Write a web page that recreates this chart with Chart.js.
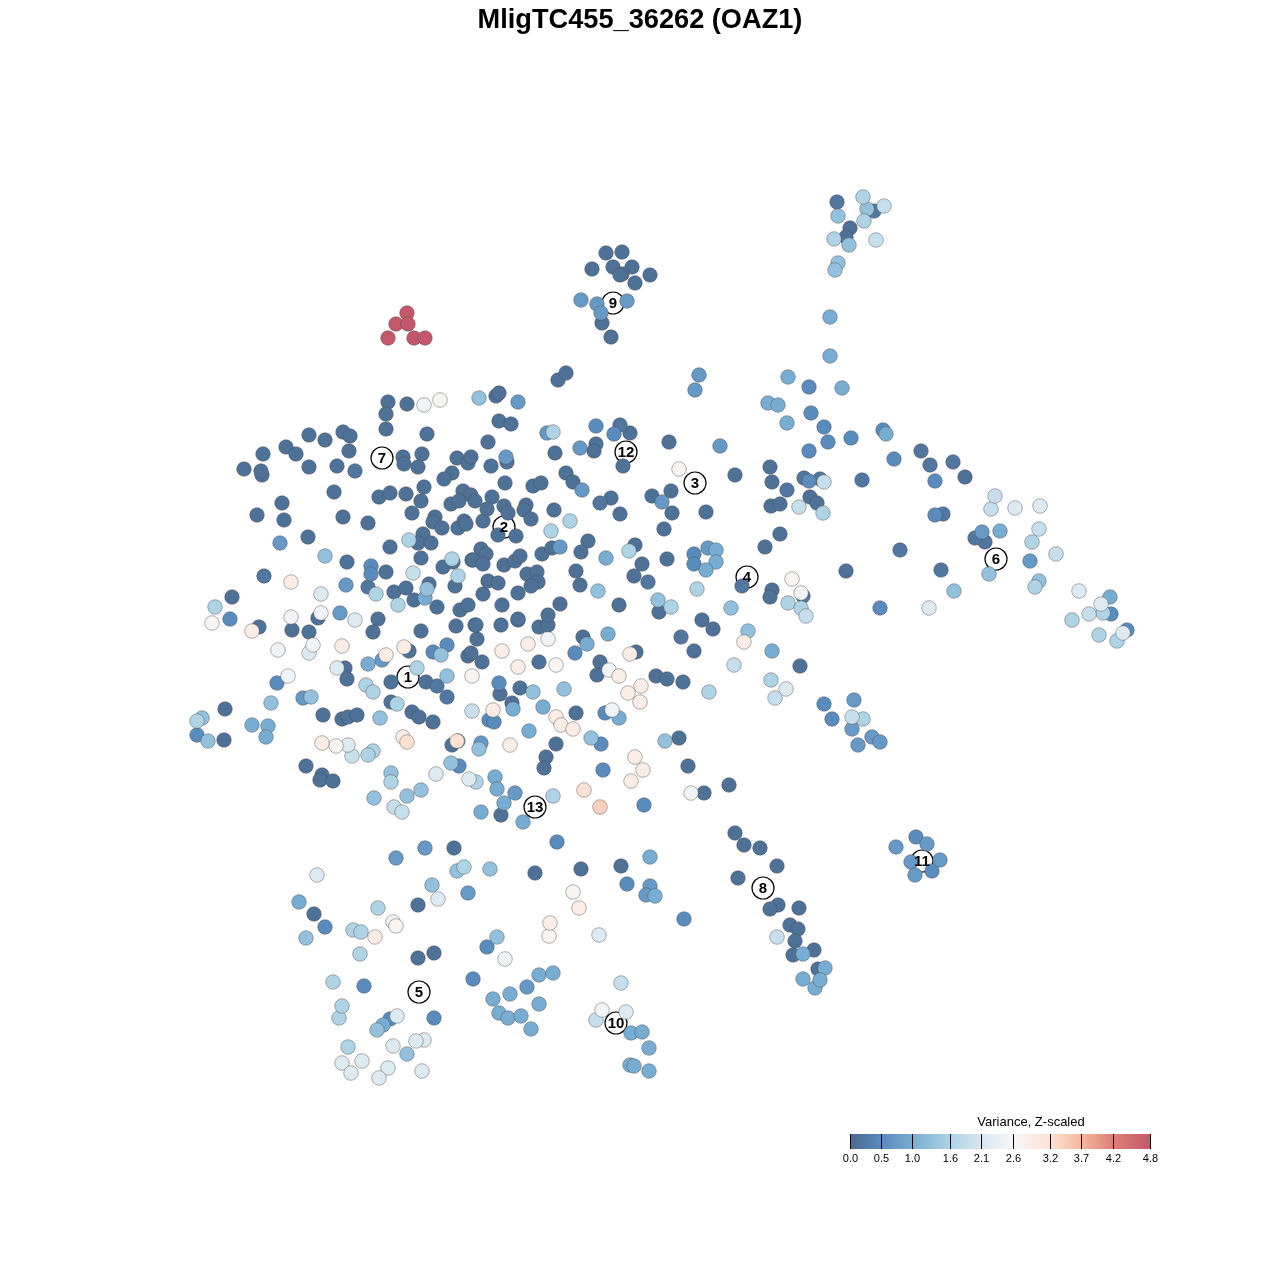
<!DOCTYPE html>
<html>
<head>
<meta charset="utf-8">
<title>MligTC455_36262 (OAZ1)</title>
<script src="https://cdn.jsdelivr.net/npm/chart.js@4/dist/chart.umd.min.js"></script>
<style>
html, body { margin: 0; padding: 0; background: #fff; }
canvas { display: block; }
</style>
</head>
<body>
<canvas id="myChart" width="1280" height="1280"></canvas>
<script>
// points, one list per variance level: [x, y, x, y, ...]
const level01 = [388,402,407,404,386,414,386,429,427,434,309,435,325,440,343,432,350,436,263,454,286,447,296,454,349,451,309,467,337,466,244,469,262,475,261,471,403,457,404,464,422,454,418,467,457,458,468,463,471,457,452,473,444,479,334,492,379,497,390,493,406,494,424,487,421,501,463,491,471,495,451,504,459,501,475,501,282,503,257,515,284,520,343,517,368,523,412,513,435,517,433,522,442,528,458,528,464,521,466,524,483,521,308,537,390,547,423,534,418,543,431,543,421,558,347,562,443,567,453,562,472,560,386,572,429,584,455,586,394,592,406,588,414,600,437,607,232,597,259,627,318,618,378,619,373,632,292,630,309,632,421,631,456,626,475,625,460,610,468,605,483,594,477,639,409,651,468,656,471,653,482,662,345,668,347,679,391,682,426,682,391,702,412,712,419,717,433,722,323,715,342,719,348,717,357,715,225,709,224,740,452,745,306,766,322,775,320,780,333,781,454,848,501,815,583,637,539,627,548,625,518,620,501,625,476,625,636,652,600,662,597,675,656,676,667,679,683,682,539,662,500,694,520,688,512,703,576,713,679,738,556,744,546,757,544,768,688,766,729,785,704,793,735,833,744,845,558,380,566,373,496,396,499,393,499,421,511,424,488,442,630,433,669,442,596,444,594,451,555,453,623,466,491,466,507,462,505,483,566,473,573,482,533,486,541,483,492,497,487,509,504,506,508,513,526,505,524,510,531,519,554,510,498,535,516,536,611,498,620,514,652,496,671,491,672,513,664,529,481,549,486,554,473,560,483,564,504,565,515,561,520,556,542,554,552,548,588,541,581,552,635,545,667,559,642,564,634,576,488,581,498,583,527,574,537,572,538,582,531,586,518,593,502,605,576,571,580,585,560,604,548,615,518,619,619,605,659,612,702,620,713,629,694,651,735,475,706,512,850,228,846,237,965,477,770,467,772,482,810,497,817,503,771,506,780,504,780,534,765,547,846,571,772,590,770,597,800,666,760,848,777,866,738,878,778,905,770,909,799,908,790,925,798,929,795,941,814,950,793,955,818,969,606,253,622,252,613,267,592,269,632,267,622,274,620,275,650,275,635,283,602,323,611,337,535,873,581,869,621,866,418,958,434,953,418,905,314,914];
const level02 = [355,471,620,425,648,582,681,637,837,202,874,211,921,451,930,465,953,462,862,480,804,478,820,479,787,490,985,542,943,514,900,550,975,538,941,570,803,596,264,576,368,587,600,503,437,686,447,697,742,586];
const level05 = [371,566,197,735,433,652,499,683,557,842,603,770,605,713,601,744,575,653,459,766,644,805,614,434,596,426,230,619,277,683,364,986,487,947,325,927,684,919,916,837,932,871,1111,614,1127,630,851,438,811,413,824,427,809,451,935,481,935,515,809,481,880,608,824,704,832,719,894,459,694,554,694,564,627,884,390,1019,434,1018,447,645,371,574,489,720,494,722,809,387,828,442,883,430,473,979];
const level07 = [280,543,340,613,382,660,303,698,699,375,695,390,458,741,481,743,560,547,582,490,662,502,597,304,601,313,896,847,911,862,915,875,872,737,880,742,468,893,650,886,646,895,346,585,720,446,518,402,547,433,580,448,506,457,515,793,708,548,927,844,940,860,581,300,627,301,396,858,852,729,858,745,854,700,527,987,982,532,1030,561,425,848];
const level10 = [368,664,252,725,268,726,266,737,425,598,650,857,481,812,495,777,529,731,543,707,513,709,587,644,608,634,606,558,716,550,716,562,706,570,830,317,830,356,842,388,886,434,1000,531,1110,597,772,651,803,954,815,988,655,896,299,902,631,1033,642,1032,649,1048,630,1065,634,1066,649,1071,531,1029,539,975,553,973,510,994,493,999,539,1004,499,1013,508,1018,521,1016,523,822,619,718,497,789,504,803,768,403,778,405,787,423,788,377,825,968,803,979,820,980,383,1025];
const level13 = [325,556,271,703,380,718,311,697,447,676,202,718,208,741,391,773,421,790,407,796,374,798,427,589,407,1054,377,1030,479,749,451,763,591,738,665,741,533,692,564,689,479,398,731,608,748,631,497,937,490,869,457,871,432,885,867,209,838,216,838,263,835,270,1039,581,954,591,598,591,658,600,441,655,306,938,849,245,989,574];
const level16 = [409,540,452,559,376,594,398,605,215,607,366,685,373,692,397,704,417,668,197,721,373,751,368,755,391,782,476,782,553,796,458,576,551,531,570,521,629,551,697,589,671,607,553,432,863,197,864,221,834,239,1032,542,1035,587,1103,613,1099,635,1117,641,788,603,801,608,709,692,863,719,353,930,361,932,378,908,348,1047,339,1018,333,982,342,1006,464,867,360,954,1072,620,771,680,823,513];
const level19 = [413,573,472,711,352,756,394,807,402,812,1039,529,991,509,995,496,1056,554,884,206,876,240,1089,614,734,665,775,698,852,717,806,616,621,983,596,1020,799,507,824,482,777,937];
const level22 = [321,594,355,620,309,653,337,668,436,774,348,745,469,779,1015,508,1040,506,929,608,786,689,1101,604,1123,633,393,1046,424,1040,416,1041,342,1063,626,1012,397,1016,317,875,438,899,599,935,351,1073,362,1061,388,1068,379,1078,422,1071,1079,591];
const level25 = [424,405,291,617,321,613,278,650,313,645,288,676,548,639,609,670,612,710,691,793,801,593,393,922,505,959,602,1010];
const level27 = [440,400,212,623,472,676,679,469,792,579,396,926,573,892,556,665,336,746,549,936];
const level29 = [291,582,252,631,342,646,386,655,404,647,322,743,403,737,502,651,630,654,528,644,518,667,619,676,641,686,628,693,640,702,744,642,493,710,556,717,561,725,573,729,635,757,643,770,631,781,510,745,579,908,550,923,375,937];
const level32 = [407,742,457,741,584,790];
const level34 = [600,807];
const level48 = [407,313,396,324,408,324,388,338,414,338,425,338];
const variances = [0.1, 0.2, 0.5, 0.7, 1.0, 1.3, 1.6, 1.9, 2.2, 2.5, 2.7, 2.9, 3.2, 3.4, 4.8];
const levels = [level01, level02, level05, level07, level10, level13, level16, level19, level22, level25, level27, level29, level32, level34, level48];

// numbered clusters
const clusterNames = ['1','2','3','4','5','6','7','8','9','10','11','12','13'];
const clusterX = [408,504,695,747,419,996,382,763,613,616,922,626,535];
const clusterY = [677,527,483,577,992,559,458,888,303,1023,861,452,807];

// colour bar
const barTicks = [0.0, 0.5, 1.0, 1.6, 2.1, 2.6, 3.2, 3.7, 4.2, 4.8];
const barColors = ['#4b6a8f','#5a8bbd','#77add2','#aed3e5','#d8e7f1','#f7f7f7','#fde2d3','#f5b79d','#dd7f75','#c4586a'];
const barTitle = 'Variance, Z-scaled';

function hexToRgb(hex) {
    return [1, 3, 5].map(i => parseInt(hex.substr(i, 2), 16));
}

function colorFor(v) {
    let i = 0;
    while (i < barTicks.length - 2 && v > barTicks[i + 1]) i++;
    const t = (v - barTicks[i]) / (barTicks[i + 1] - barTicks[i]);
    const a = hexToRgb(barColors[i]), b = hexToRgb(barColors[i + 1]);
    const c = a.map((x, k) => Math.round(x + (b[k] - x) * t));
    return 'rgb(' + c.join(',') + ')';
}

const points = [];
const pointColors = [];
levels.forEach((list, l) => {
    for (let i = 0; i + 1 < list.length; i += 2) {
        points.push({ x: list[i], y: list[i + 1] });
        pointColors.push(colorFor(variances[l]));
    }
});

const labelsPlugin = {
    id: 'clusterLabels',
    afterDatasetsDraw(chart) {
        const { ctx, scales: { x, y, barX } } = chart;
        ctx.save();
        ctx.fillStyle = '#000';
        ctx.textAlign = 'center';
        ctx.textBaseline = 'middle';
        ctx.font = 'bold 15px "Liberation Sans"';
        clusterNames.forEach((name, i) => {
            ctx.fillText(name, x.getPixelForValue(clusterX[i]), y.getPixelForValue(clusterY[i]) + 0.5);
        });

        // colour bar, placed with its own axis
        const left = barX.getPixelForValue(barTicks[0]);
        const right = barX.getPixelForValue(barTicks[barTicks.length - 1]);
        const top = y.getPixelForValue(1134);
        const bottom = y.getPixelForValue(1149);
        const grad = ctx.createLinearGradient(left, 0, right, 0);
        barTicks.forEach((t, i) => grad.addColorStop(t / barTicks[barTicks.length - 1], barColors[i]));
        ctx.fillStyle = grad;
        ctx.fillRect(left, top, right - left, bottom - top);
        ctx.strokeStyle = '#000';
        ctx.lineWidth = 1;
        ctx.fillStyle = '#000';
        ctx.font = '11px "Liberation Sans"';
        barTicks.forEach(t => {
            const px = Math.floor(barX.getPixelForValue(t)) + 0.5;
            ctx.beginPath();
            ctx.moveTo(px, top);
            ctx.lineTo(px, bottom);
            ctx.stroke();
            ctx.fillText(t.toFixed(1), px, y.getPixelForValue(1159));
        });
        ctx.font = '13px "Liberation Sans"';
        ctx.fillText(barTitle, x.getPixelForValue(1031), y.getPixelForValue(1122));
        ctx.restore();
    }
};

const ctx = document.getElementById('myChart').getContext('2d');
const myChart = new Chart(ctx, {
    type: 'scatter',
    data: {
        datasets: [{
            label: 'cells',
            data: points,
            backgroundColor: pointColors,
            borderColor: 'rgba(80, 80, 80, 0.45)',
            borderWidth: 1,
            pointRadius: 7.3
        }, {
            label: 'clusters',
            data: clusterX.map((x, i) => ({ x: x, y: clusterY[i] })),
            backgroundColor: 'rgba(255, 255, 255, 0.9)',
            borderColor: '#000',
            borderWidth: 1.2,
            pointRadius: 11
        }]
    },
    plugins: [labelsPlugin],
    options: {
        responsive: false,
        animation: false,
        layout: { padding: 0, autoPadding: false },
        scales: {
            x: { type: 'linear', min: 0, max: 1280, display: false },
            y: { type: 'linear', min: 36, max: 1280, reverse: true, display: false },
            barX: { type: 'linear', axis: 'x', min: -850 / 62.7, max: 430 / 62.7, display: false }
        },
        plugins: {
            legend: { display: false },
            tooltip: { enabled: false },
            title: {
                display: true,
                text: 'MligTC455_36262 (OAZ1)',
                color: '#000',
                padding: { top: 5, bottom: -1 },
                font: { family: '"Liberation Sans"', size: 27.2, weight: 'bold', lineHeight: 1.176 }
            }
        }
    }
});
</script>
</body>
</html>
